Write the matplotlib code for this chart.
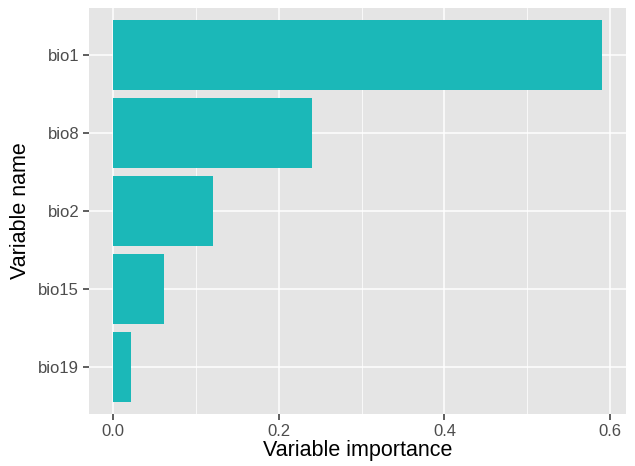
import matplotlib
matplotlib.use("Agg")
import matplotlib.pyplot as plt
import numpy as np

# data (top to bottom)
variables = ["bio1", "bio8", "bio2", "bio15", "bio19"]
importance = [0.590, 0.240, 0.121, 0.061, 0.021]
xticks = [0.0, 0.2, 0.4, 0.6]
xtick_labels = ["0.0", "0.2", "0.4", "0.6"]

plt.rcParams['font.family'] = ['Liberation Sans', 'DejaVu Sans']

fig = plt.figure(figsize=(6.35, 4.66), dpi=100)
ax = fig.add_axes([0.140, 0.112, 0.846, 0.871])
ax.set_facecolor('#E5E5E5')

# bottom category first, like ggplot's coord_flip
ypos = np.arange(len(variables), 0, -1)
ax.barh(ypos, importance, height=0.9, color='#1BB8B8', zorder=3)

xmax = max(importance)
pad = 0.05 * xmax
ax.set_xlim(-pad, xmax + pad)
ax.set_ylim(0.4, len(variables) + 0.6)

ax.set_xticks(xticks)
ax.set_xticklabels(xtick_labels)
ax.set_xticks([0.1, 0.3, 0.5], minor=True)
ax.set_yticks(ypos)
ax.set_yticklabels(variables)

ax.grid(which='major', color='white', linewidth=1.1, zorder=1)
ax.grid(which='minor', axis='x', color='white', linewidth=0.55, zorder=1)
ax.set_axisbelow(True)

for s in ax.spines.values():
    s.set_visible(False)

ax.tick_params(which='major', length=4, width=1.1, color='#333333',
               labelsize=12, labelcolor='#4D4D4D', pad=3)
ax.tick_params(which='minor', length=0)

ax.set_xlabel('Variable importance', fontsize=15.5, color='black', labelpad=1)
ax.set_ylabel('Variable name', fontsize=15.5, color='black', labelpad=5)

fig.savefig('out.png', dpi=100)
